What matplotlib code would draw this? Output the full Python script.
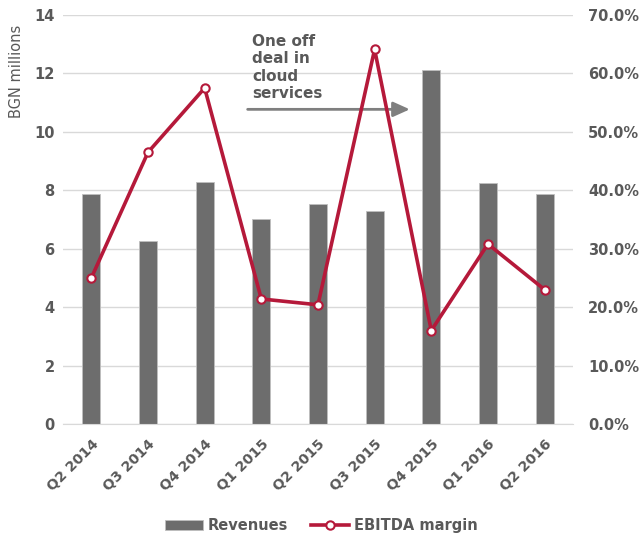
import matplotlib
matplotlib.use("Agg")
import matplotlib.pyplot as plt
import numpy as np

quarters = ["Q2 2014", "Q3 2014", "Q4 2014", "Q1 2015", "Q2 2015",
            "Q3 2015", "Q4 2015", "Q1 2016", "Q2 2016"]
revenues = [7.88, 6.28, 8.28, 7.02, 7.54, 7.30, 12.11, 8.24, 7.88]
ebitda_margin = [25.0, 46.5, 57.5, 21.4, 20.4, 64.1, 16.0, 30.8, 23.0]

grey = "#6d6d6d"
txt = "#595959"
red = "#b5193a"

plt.rcParams['font.family'] = ['DejaVu Sans']

fig = plt.figure(figsize=(6.43, 5.33), dpi=100)
ax = fig.add_axes([0.098, 0.2045, 0.793, 0.7674])
x = np.arange(len(quarters))

ax.bar(x, revenues, width=0.32, color=grey, edgecolor="#bfbfbf", linewidth=0.6,
       label="Revenues", zorder=2)
ax.set_ylim(0, 14)
ax.set_yticks(np.arange(0, 15, 2))
ax.set_xlim(-0.5, len(quarters) - 0.5)
ax.set_xticks(x)
ax.set_xticklabels(quarters, rotation=45, ha="right", rotation_mode="anchor")
ax.grid(axis="y", color="#d9d9d9", linewidth=1, zorder=0)
ax.set_axisbelow(True)
for s in ["top", "right", "left"]:
    ax.spines[s].set_visible(False)
ax.spines["bottom"].set_color("#d9d9d9")
ax.tick_params(length=0, colors=txt, labelsize=10.5, pad=6)
ax.tick_params(axis="x", labelsize=10.2, pad=9)
for lab in ax.get_xticklabels() + ax.get_yticklabels():
    lab.set_fontweight("bold")
ax.set_ylabel("BGN millions", color=txt, fontsize=10.5)
ax.yaxis.set_label_coords(-0.076, 0.863)

ax2 = ax.twinx()
ax2.plot(x, ebitda_margin, color=red, linewidth=2.6, marker="o", markersize=6,
         markerfacecolor="white", markeredgecolor=red, markeredgewidth=1.5,
         label="EBITDA margin", zorder=3)
ax2.set_ylim(0, 70)
ax2.set_yticks(np.arange(0, 71, 10))
ax2.set_yticklabels(["{:.1f}%".format(v) for v in np.arange(0, 71, 10)])
for s in ax2.spines.values():
    s.set_visible(False)
ax2.tick_params(length=0, colors=txt, labelsize=10.5, pad=11)
for lab in ax2.get_yticklabels():
    lab.set_fontweight("bold")

ax.annotate("", xy=(5.67, 10.77), xytext=(2.71, 10.77),
            arrowprops=dict(arrowstyle="-|>,head_length=1.0,head_width=0.45",
                            color="#7f7f7f", lw=2), zorder=5)
ax.text(2.84, 13.35, "One off\ndeal in\ncloud\nservices", color=txt,
        fontsize=11, fontweight="bold", va="top", ha="left",
        linespacing=1.2, zorder=5)

h1, l1 = ax.get_legend_handles_labels()
h2, l2 = ax2.get_legend_handles_labels()
leg = fig.legend(h1 + h2, l1 + l2, loc="lower center", bbox_to_anchor=(0.5, -0.025),
                 ncol=2, frameon=False, fontsize=10.5, handlelength=2.6,
                 handletextpad=0.3, columnspacing=1.6)
for t in leg.get_texts():
    t.set_color(txt)
    t.set_fontweight("bold")

fig.savefig("out.png", dpi=100)
